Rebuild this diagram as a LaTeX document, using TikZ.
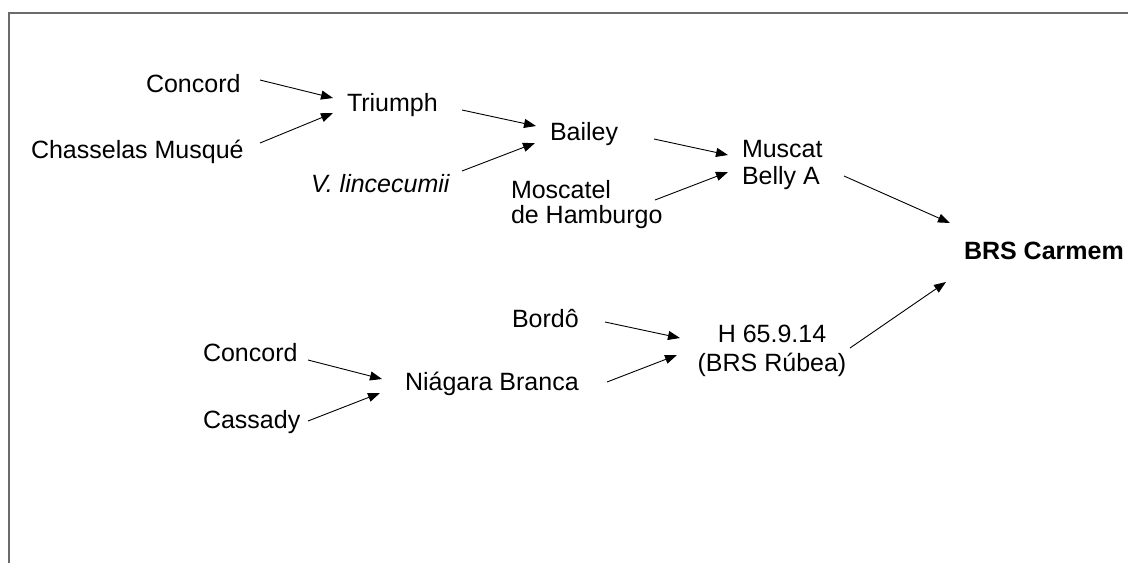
\documentclass[tikz,border=0pt]{standalone}
\usepackage{fontspec}
\setmainfont{Liberation Sans}
\usetikzlibrary{arrows.meta}
\begin{document}
\begin{tikzpicture}[x=1pt,y=-1pt,
  lbl/.style={inner sep=0pt,outer sep=0pt,anchor=base west,font=\fontsize{25}{26}\selectfont},
  conn/.style={line width=0.9pt,draw=black,-{Triangle[length=12pt,width=9pt]}},
  frameline/.style={line width=2pt,draw=black!58}]
\useasboundingbox (0,0) rectangle (1128,563);
\draw[frameline] (9,563) -- (9,13) -- (1128,13);

% nodes (multi-line nodes are placed by the baseline of their last line)
\node[lbl] (concordA) at (146,92) {Concord};
\node[lbl] (chasselas) at (31,158) {Chasselas Musqué};
\node[lbl] (triumph) at (347,111) {Triumph};
\node[lbl] (bailey) at (550,140) {Bailey};
\node[lbl,font=\fontsize{25}{26}\selectfont\itshape] (vlin) at (311,192) {V. lincecumii};
\node[lbl,align=left,font=\fontsize{25}{25}\selectfont] (moscatel) at (511,223) {Moscatel\\de Hamburgo};
\node[lbl,align=left,font=\fontsize{25}{27}\selectfont] (muscat) at (742,184) {Muscat\\Belly A};
\node[lbl,font=\fontsize{25}{26}\selectfont\bfseries] (carmem) at (964,259) {BRS Carmem};
\node[lbl] (bordo) at (512,327) {Bordô};
\node[lbl,anchor=base,align=center,font=\fontsize{25}{29.5}\selectfont] (rubea) at (772,371.5) {H 65.9.14\\(BRS Rúbea)};
\node[lbl] (concordB) at (203,361) {Concord};
\node[lbl] (niagara) at (405,390) {Niágara Branca};
\node[lbl] (cassady) at (203,428) {Cassady};

% connector end points
\coordinate (c1s) at (260,80);  \coordinate (c1e) at (333,98);
\coordinate (c2s) at (260,143); \coordinate (c2e) at (333,113);
\coordinate (c3s) at (462,110); \coordinate (c3e) at (536,126);
\coordinate (c4s) at (462,171); \coordinate (c4e) at (535,143);
\coordinate (c5s) at (654,139); \coordinate (c5e) at (728,155);
\coordinate (c6s) at (655,200); \coordinate (c6e) at (728,172);
\coordinate (c7s) at (844,176); \coordinate (c7e) at (950,223);
\coordinate (c8s) at (605,322); \coordinate (c8e) at (680,338);
\coordinate (c9s) at (607,382); \coordinate (c9e) at (677,355);
\coordinate (c10s) at (850,348); \coordinate (c10e) at (946,282);
\coordinate (c11s) at (308,360); \coordinate (c11e) at (382,379);
\coordinate (c12s) at (308,421); \coordinate (c12e) at (380,393);

\draw[conn] (c1s) -- (c1e);
\draw[conn] (c2s) -- (c2e);
\draw[conn] (c3s) -- (c3e);
\draw[conn] (c4s) -- (c4e);
\draw[conn] (c5s) -- (c5e);
\draw[conn] (c6s) -- (c6e);
\draw[conn] (c7s) -- (c7e);
\draw[conn] (c8s) -- (c8e);
\draw[conn] (c9s) -- (c9e);
\draw[conn] (c10s) -- (c10e);
\draw[conn] (c11s) -- (c11e);
\draw[conn] (c12s) -- (c12e);
\end{tikzpicture}
\end{document}
